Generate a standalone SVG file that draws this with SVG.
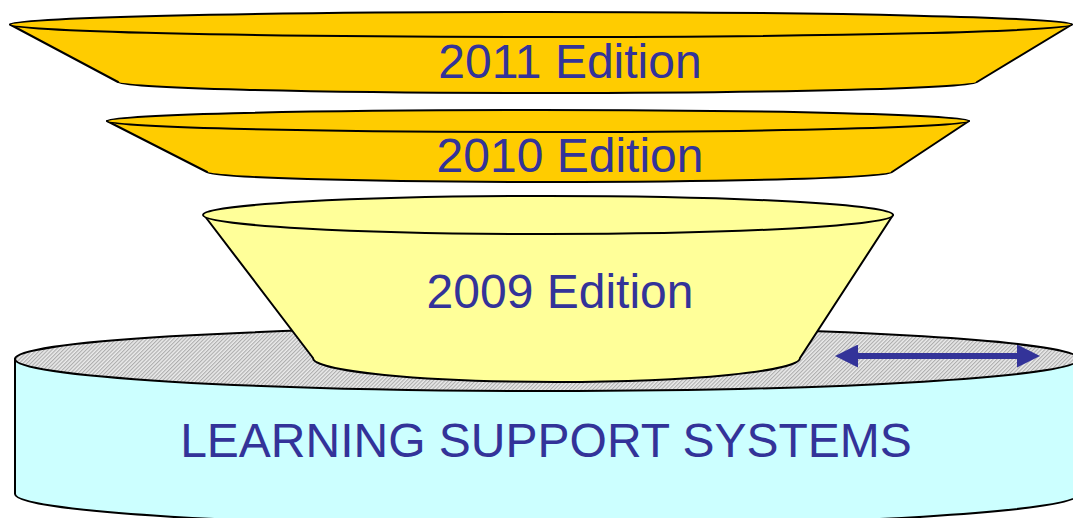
<svg xmlns="http://www.w3.org/2000/svg" width="1073" height="518" viewBox="0 0 1073 518">
<defs>
<style>
.out{stroke:#000;stroke-width:2;stroke-linejoin:round}
.gold{fill:#FFCC00}
.lbl{font-family:"Liberation Sans",Arial,sans-serif;font-size:48px;fill:#333399;text-anchor:middle}
</style>
<pattern id="hatch" patternUnits="userSpaceOnUse" width="2.7" height="10" patternTransform="rotate(45)">
<rect width="2.7" height="10" fill="#ebebeb"/>
<line x1="0.6" y1="0" x2="0.6" y2="10" stroke="#a6a6a6" stroke-width="1"/>
</pattern>
<marker id="ah" viewBox="0 0 23 23" refX="0" refY="11.5" markerWidth="23" markerHeight="23" markerUnits="userSpaceOnUse" orient="auto-start-reverse">
<path d="M0,0 L23,11.5 L0,23 Z" fill="#333399"/>
</marker>
</defs>
<g id="base">
<path class="out" d="M15,359 L15,494 A532,32 0 0 0 1079,494 L1079,359 Z" fill="#CCFFFF"/>
<ellipse class="out" cx="547" cy="359" rx="532" ry="32" fill="url(#hatch)"/>
<text class="lbl" x="546" y="457">LEARNING SUPPORT SYSTEMS</text>
</g>
<g id="connectors">
<line x1="858" y1="356" x2="1017" y2="356" stroke="#333399" stroke-width="6" marker-start="url(#ah)" marker-end="url(#ah)"/>
</g>
<g id="ed2009">
<path class="out" d="M204,215 L313,358 A243.5,24 0 0 0 800,358 L893,215 Z" fill="#FFFF99"/>
<ellipse class="out" cx="548" cy="215" rx="345" ry="19" fill="#FFFF99"/>
<text class="lbl" x="560" y="308">2009 Edition</text>
</g>
<g id="ed2010">
<path class="out gold" d="M107,121 L207,172 A342.5,10 0 0 0 892,172 L969,121 Z"/>
<ellipse class="out gold" cx="538" cy="121" rx="431" ry="11"/>
<text class="lbl" x="570" y="172">2010 Edition</text>
</g>
<g id="ed2011">
<path class="out gold" d="M10,24.5 L118,82 A429.5,11 0 0 0 977,82 L1072,24.5 Z"/>
<ellipse class="out gold" cx="541" cy="24.5" rx="531" ry="12.5"/>
<text class="lbl" x="570" y="78">2011 Edition</text>
</g>
</svg>
